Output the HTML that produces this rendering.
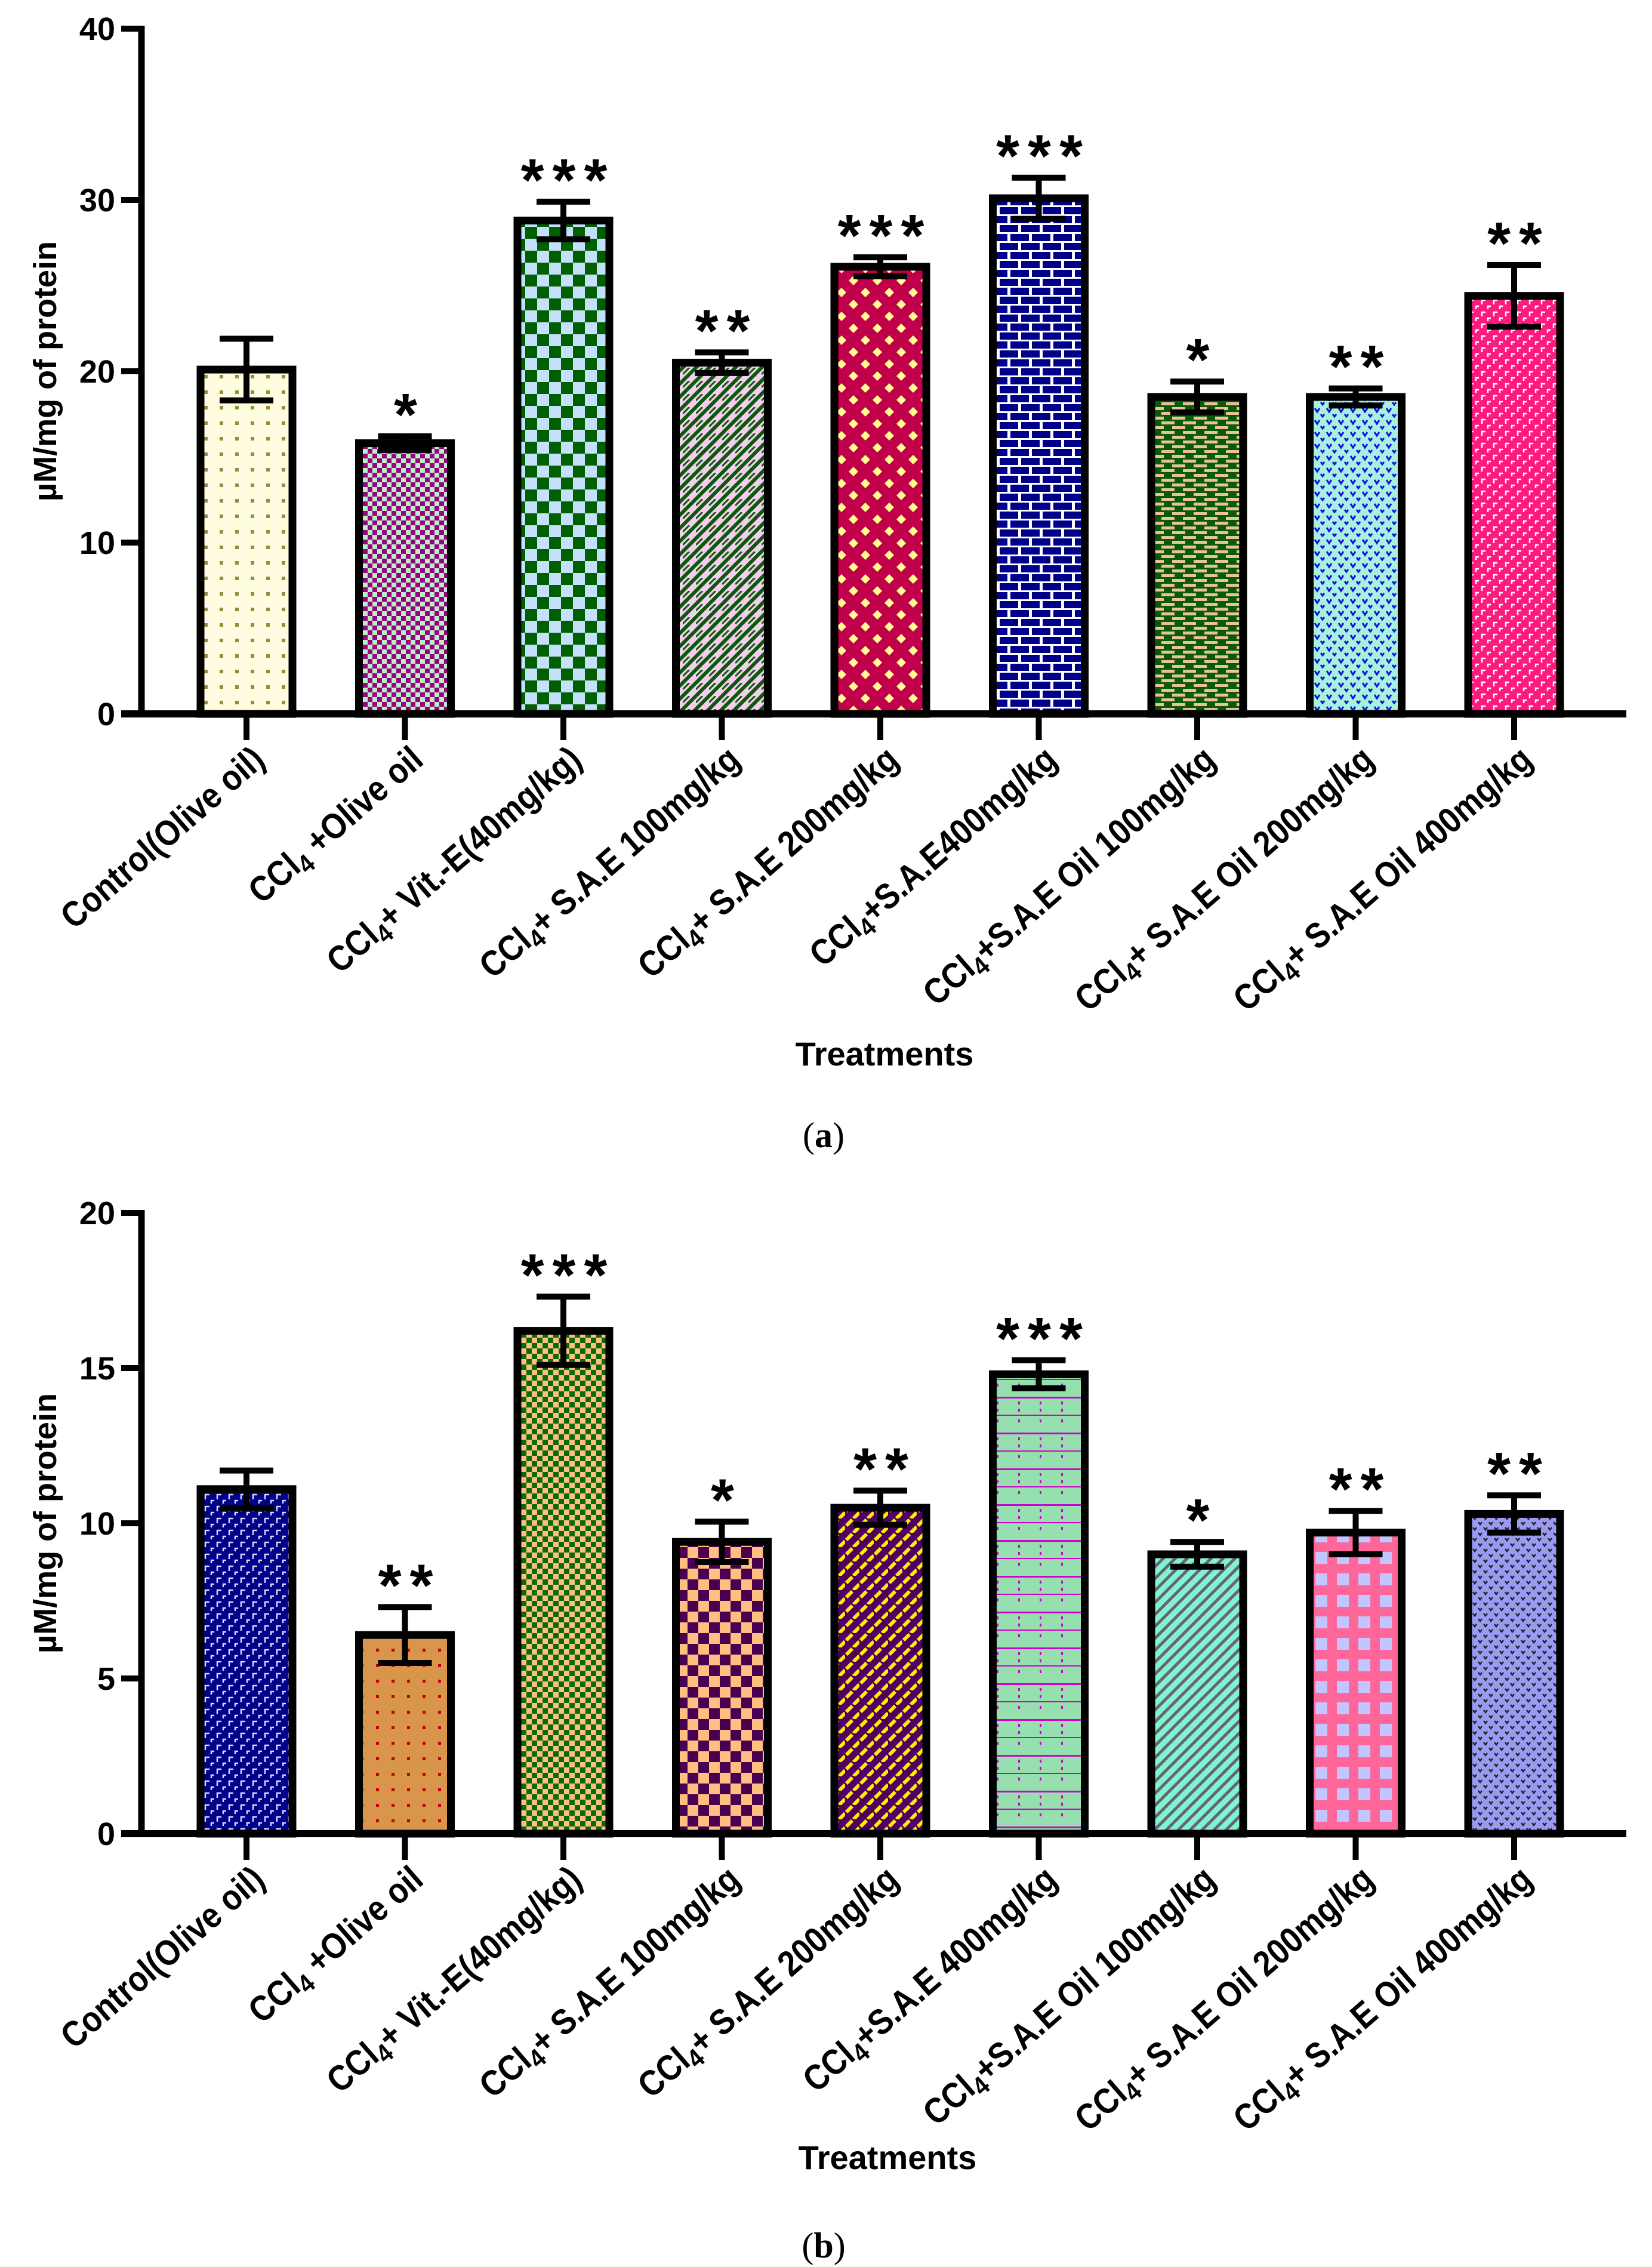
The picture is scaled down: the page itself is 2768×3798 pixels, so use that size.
<!DOCTYPE html>
<html><head><meta charset="utf-8"><style>
html,body{margin:0;padding:0;background:#fff;}
svg{display:block;font-family:"Liberation Sans",Arial,sans-serif;}
</style></head><body>
<svg id="fig" width="2768" height="3798" viewBox="0 0 2768 3798" xmlns="http://www.w3.org/2000/svg">
<defs>
<pattern id="pa0" patternUnits="userSpaceOnUse" width="26" height="26"><rect width="26" height="26" fill="#fffde0"/><rect x="4" y="4" width="6" height="6" fill="#9a8a3a"/></pattern>
<pattern id="pa1" patternUnits="userSpaceOnUse" width="16" height="16"><rect width="16" height="16" fill="#9a0080"/><rect width="8" height="8" fill="#b8f0c8"/><rect x="8" y="8" width="8" height="8" fill="#b8f0c8"/></pattern>
<pattern id="pa2" patternUnits="userSpaceOnUse" width="40" height="40"><rect width="40" height="40" fill="#006000"/><rect width="20" height="20" fill="#c4e0fa"/><rect x="20" y="20" width="20" height="20" fill="#c4e0fa"/></pattern>
<pattern id="pa3" patternUnits="userSpaceOnUse" width="22" height="22"><rect width="22" height="22" fill="#f6cdf0"/><path d="M0 22L22 0M-5 5L5 -5M17 27L27 17" stroke="#0a5a0a" stroke-width="6"/><path d="M0 11L11 0" stroke="#0a5a0a" stroke-width="3"/></pattern>
<pattern id="pa4" patternUnits="userSpaceOnUse" width="40" height="40"><rect width="40" height="40" fill="#c0004a"/><path d="M10 2L18 10L10 18L2 10Z M30 22L38 30L30 38L22 30Z" fill="#ffff90"/></pattern>
<pattern id="pa5" patternUnits="userSpaceOnUse" width="36" height="30"><rect width="36" height="30" fill="#fff"/><rect x="1" y="2" width="31" height="12" fill="#000088"/><rect x="-16" y="17" width="30" height="12" fill="#000088"/><rect x="19" y="17" width="30" height="12" fill="#000088"/></pattern>
<pattern id="pa6" patternUnits="userSpaceOnUse" width="36" height="16"><rect width="36" height="16" fill="#0a5a0a"/><rect x="2" y="2" width="22" height="5" fill="#e8c39a"/><rect x="20" y="10" width="22" height="5" fill="#e8c39a"/><rect x="-16" y="10" width="22" height="5" fill="#e8c39a"/></pattern>
<pattern id="pa7" patternUnits="userSpaceOnUse" width="20" height="20"><rect width="20" height="20" fill="#a8f0e0"/><path d="M3 4L7 10L11 4" stroke="#1010e0" stroke-width="3" fill="none"/><path d="M13 14L16 18L19 14" stroke="#1010e0" stroke-width="3" fill="none"/></pattern>
<pattern id="pa8" patternUnits="userSpaceOnUse" width="20" height="20"><rect width="20" height="20" fill="#ff1a80"/><path d="M3 10V3H9M13 18V13H18" stroke="#fff" stroke-width="2.5" fill="none"/></pattern>

<pattern id="pb0" patternUnits="userSpaceOnUse" width="20" height="20"><rect width="20" height="20" fill="#000088"/><path d="M4 12V4H11M14 19V14H19" stroke="#d8d8ff" stroke-width="2.5" fill="none"/></pattern>
<pattern id="pb1" patternUnits="userSpaceOnUse" width="26" height="26"><rect width="26" height="26" fill="#d9964a"/><rect x="6" y="6" width="5" height="5" fill="#c00010"/></pattern>
<pattern id="pb2" patternUnits="userSpaceOnUse" width="18" height="18"><rect width="18" height="18" fill="#0a6a0a"/><rect width="9" height="9" fill="#ffbf80"/><rect x="9" y="9" width="9" height="9" fill="#ffbf80"/></pattern>
<pattern id="pb3" patternUnits="userSpaceOnUse" width="36" height="36"><rect width="36" height="36" fill="#4a0050"/><rect width="18" height="18" fill="#ffbf80"/><rect x="18" y="18" width="18" height="18" fill="#ffbf80"/></pattern>
<pattern id="pb4" patternUnits="userSpaceOnUse" width="24" height="24"><rect width="24" height="24" fill="#500060"/><path d="M2 12L12 2M14 24L24 14" stroke="#ffee00" stroke-width="6"/></pattern>
<pattern id="pb5" patternUnits="userSpaceOnUse" width="36" height="60"><rect width="36" height="60" fill="#96e0b0"/><rect y="0" width="36" height="3" fill="#d000d0"/><rect x="14" y="8" width="3" height="5" fill="#d000d0"/><rect x="14" y="20" width="3" height="5" fill="#d000d0"/><rect x="14" y="38" width="3" height="5" fill="#d000d0"/><rect y="30" width="36" height="2" fill="#d000d0"/></pattern>
<pattern id="pb6" patternUnits="userSpaceOnUse" width="20" height="20"><rect width="20" height="20" fill="#80f2d8"/><path d="M-5 5L5 -5M0 20L20 0M15 25L25 15" stroke="#666" stroke-width="5"/></pattern>
<pattern id="pb7" patternUnits="userSpaceOnUse" width="36" height="36"><rect width="36" height="36" fill="#ff6699"/><rect x="8" y="8" width="20" height="20" fill="#c4c4ff"/></pattern>
<pattern id="pb8" patternUnits="userSpaceOnUse" width="18" height="18"><rect width="18" height="18" fill="#9a9af2"/><path d="M2 3L5 7L8 3M11 12L14 16L17 12" stroke="#222" stroke-width="2.5" fill="none"/></pattern>
</defs>
<g id="chartA"></g>
<g id="chartB"></g>
<text x="1482" y="1785" font-size="56" font-weight="bold" text-anchor="middle">Treatments</text>
<text x="1380" y="1922" font-size="60" font-family="Liberation Serif, serif" text-anchor="middle">(<tspan font-weight="bold">a</tspan>)</text>
<text x="1487" y="3634" font-size="56" font-weight="bold" text-anchor="middle">Treatments</text>
<text x="1380" y="3782" font-size="60" font-family="Liberation Serif, serif" text-anchor="middle">(<tspan font-weight="bold">b</tspan>)</text>
</svg>
<script>
const categoriesA = ["Control(Olive oil)","CCl4 +Olive oil","CCl4+ Vit.-E(40mg/kg)","CCl4+ S.A.E 100mg/kg","CCl4+ S.A.E 200mg/kg","CCl4+S.A.E400mg/kg","CCl4+S.A.E Oil 100mg/kg","CCl4+ S.A.E Oil 200mg/kg","CCl4+ S.A.E Oil 400mg/kg"];
const valuesA = [20.1, 15.8, 28.8, 20.5, 26.1, 30.1, 18.5, 18.5, 24.4];
const errorsA = [1.8, 0.4, 1.1, 0.6, 0.55, 1.2, 0.9, 0.5, 1.8];
const starsA = ["", "*", "***", "**", "***", "***", "*", "**", "**"];
const ticksA = [0, 10, 20, 30, 40];

const categoriesB = ["Control(Olive oil)","CCl4 +Olive oil","CCl4+ Vit.-E(40mg/kg)","CCl4+ S.A.E 100mg/kg","CCl4+ S.A.E 200mg/kg","CCl4+S.A.E 400mg/kg","CCl4+S.A.E Oil 100mg/kg","CCl4+ S.A.E Oil 200mg/kg","CCl4+ S.A.E Oil 400mg/kg"];
const valuesB = [11.1, 6.4, 16.2, 9.4, 10.5, 14.8, 9.0, 9.7, 10.3];
const errorsB = [0.6, 0.9, 1.1, 0.65, 0.55, 0.45, 0.4, 0.7, 0.6];
const starsB = ["", "**", "***", "*", "**", "***", "*", "**", "**"];
const ticksB = [0, 5, 10, 15, 20];

const NS = "http://www.w3.org/2000/svg";
function mk(tag, attrs, parent){const e=document.createElementNS(NS,tag);for(const k in attrs)e.setAttribute(k,attrs[k]);parent.appendChild(e);return e;}

function drawChart(g, cats, vals, errs, stars, ticks, yTop, yBot, maxV, patPrefix, key){
  const axX = 237, xEnd = 2725, x0 = 413, step = 265.5;
  const y = v => yBot - (v / maxV) * (yBot - yTop);
  const x = i => x0 + i * step;
  const yt = mk("text",{x:0,y:0,"font-size":54,"font-weight":"bold","text-anchor":"middle",transform:`translate(94,${(yTop+yBot)/2}) rotate(-90)`},g);
  yt.textContent = "µM/mg of protein";
  
  
  ticks.forEach(t=>{
    const ln = mk("line",{x1:axX-34,x2:axX,y1:y(t),y2:y(t),stroke:"#000","stroke-width":10},g);
    
    
    const tx = mk("text",{x:axX-44,y:y(t)+19,"font-size":54,"font-weight":"bold","text-anchor":"end"},g);
    tx.textContent = t;
    
    
  });
  vals.forEach((v,i)=>{
    const cx = x(i), w = 154;
    const r = mk("rect",{x:cx-w/2,y:y(v),width:w,height:yBot-y(v),fill:`url(#${patPrefix}${i})`,stroke:"#000","stroke-width":13},g);
    
    
    const hi = y(v+errs[i]), lo = y(v-errs[i]);
    const eb = mk("path",{d:`M${cx} ${hi}V${lo}M${cx-45} ${hi}H${cx+45}M${cx-45} ${lo}H${cx+45}`,stroke:"#000","stroke-width":10,fill:"none"},g);
    
    
    if(stars[i]){
      const s = mk("text",{x:cx+8,y:hi-2,"font-size":100,"font-weight":"bold","text-anchor":"middle","letter-spacing":14},g);
      s.textContent = stars[i];
      
      
    }
    const tk = mk("line",{x1:cx,x2:cx,y1:yBot,y2:yBot+44,stroke:"#000","stroke-width":10},g);
    
    
    const lb = mk("text",{x:0,y:0,"font-size":60,"font-weight":"bold","text-anchor":"end",transform:`translate(${cx+34},${yBot+82}) rotate(-41) scale(0.88,1)`},g);
    const c = cats[i];
    if(c.startsWith("CCl4")){
      const t1 = mk("tspan",{},lb); t1.textContent="CCl";
      const t2 = mk("tspan",{"font-size":44,dy:12},lb); t2.textContent="4";
      const t3 = mk("tspan",{dy:-12},lb); t3.textContent=c.slice(4);
    } else lb.textContent = c;
    
    
  });
  const ya = mk("line",{x1:axX,x2:axX,y1:yTop-5,y2:yBot+5,stroke:"#000","stroke-width":11},g);
  
  
  const xa = mk("line",{x1:axX-34,x2:xEnd,y1:yBot,y2:yBot,stroke:"#000","stroke-width":12},g);
  
  
}
drawChart(document.getElementById("chartA"), categoriesA, valuesA, errorsA, starsA, ticksA, 48, 1196, 40, "pa", "a");
drawChart(document.getElementById("chartB"), categoriesB, valuesB, errorsB, starsB, ticksB, 2032, 3072, 20, "pb", "b");
</script>
</body></html>
